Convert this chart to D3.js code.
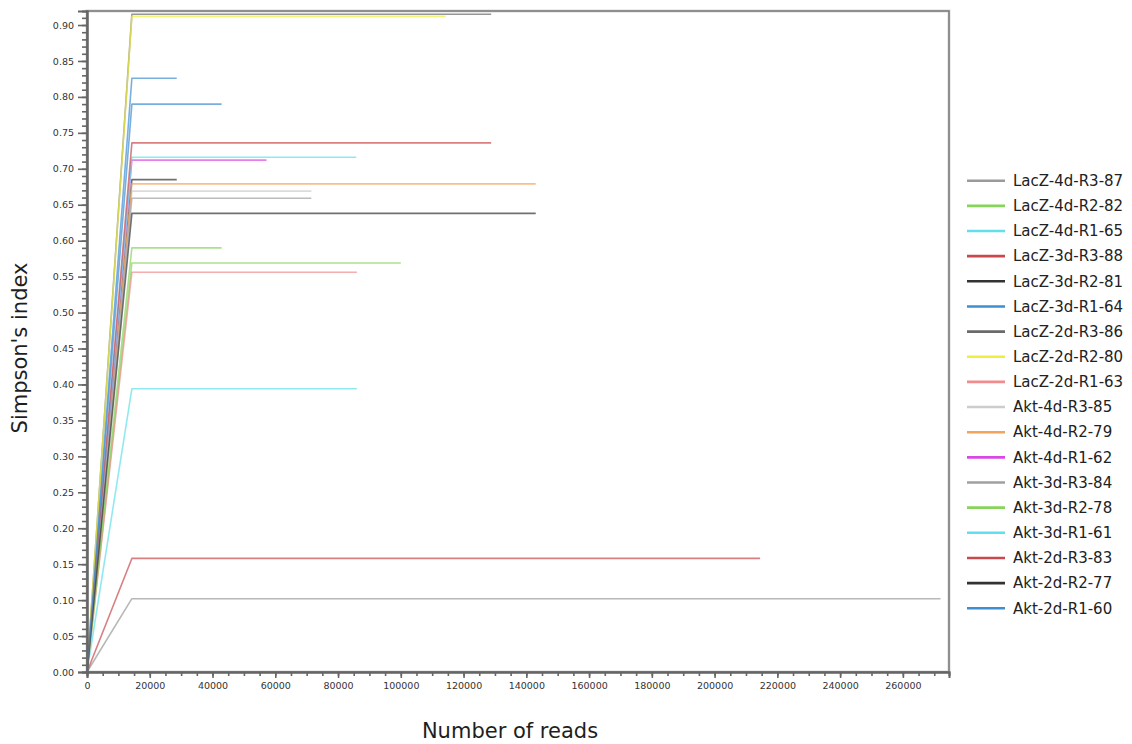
<!DOCTYPE html>
<html>
<head>
<meta charset="utf-8">
<script src="https://cdn.jsdelivr.net/npm/d3@7"></script>
<style>
  body { margin: 0; background: #fff; }
  svg text { font-family: "DejaVu Sans", Verdana, sans-serif; }
</style>
</head>
<body>
<svg id="chart" width="1132" height="744"></svg>
<script>
// Rarefaction of Simpson's index per library
const sampleNames = [
  "LacZ-4d-R3-87", "LacZ-4d-R2-82", "LacZ-4d-R1-65",
  "LacZ-3d-R3-88", "LacZ-3d-R2-81", "LacZ-3d-R1-64",
  "LacZ-2d-R3-86", "LacZ-2d-R2-80", "LacZ-2d-R1-63",
  "Akt-4d-R3-85", "Akt-4d-R2-79", "Akt-4d-R1-62",
  "Akt-3d-R3-84", "Akt-3d-R2-78", "Akt-3d-R1-61",
  "Akt-2d-R3-83", "Akt-2d-R2-77", "Akt-2d-R1-60"
];
const simpsonIndex = [
  0.102, 0.569, 0.394,
  0.158, 0.685, 0.826,
  0.915, 0.912, 0.556,
  0.669, 0.679, 0.712,
  0.659, 0.590, 0.716,
  0.736, 0.638, 0.790
];
const totalReads = [
  272000, 100000, 86000,
  214500, 28600, 28600,
  128800, 114300, 86000,
  71500, 143000, 57200,
  71500, 42900, 85800,
  128800, 143000, 42900
];
// subsampling depth of the first rarefaction step
const stepReads = [0, 14300];

const xTickLabels = [0, 20000, 40000, 60000, 80000, 100000, 120000, 140000,
  160000, 180000, 200000, 220000, 240000, 260000];
const yTickLabels = [0.00, 0.05, 0.10, 0.15, 0.20, 0.25, 0.30, 0.35, 0.40, 0.45,
  0.50, 0.55, 0.60, 0.65, 0.70, 0.75, 0.80, 0.85, 0.90];

const lineColors = [
  "#9a9a9a", "#86d45a", "#62e0ea",
  "#c8484c", "#333333", "#3d8fd2",
  "#6a6a6a", "#eeee3c", "#f08c8c",
  "#cccccc", "#f4a45a", "#d848e4",
  "#a0a0a0", "#86d45a", "#5ee0f0",
  "#c8484c", "#333333", "#3d8fd2"
];

const svg = d3.select("#chart");
const plot = { left: 87, top: 11, right: 949, bottom: 672 };

const x = d3.scaleLinear().domain([0, 274700]).range([plot.left, plot.right]);
const y = d3.scaleLinear().domain([0, 0.9195]).range([plot.bottom, plot.top]);

// plot frame
svg.append("rect")
  .attr("x", plot.left).attr("y", plot.top)
  .attr("width", plot.right - plot.left).attr("height", plot.bottom - plot.top)
  .attr("fill", "#fff").attr("stroke", "#e6e6e6").attr("stroke-width", 3.5);
svg.append("rect")
  .attr("x", plot.left).attr("y", plot.top)
  .attr("width", plot.right - plot.left).attr("height", plot.bottom - plot.top)
  .attr("fill", "none").attr("stroke", "#7a7a7a").attr("stroke-width", 1.6);

// series
const lineGen = d3.line().x(d => x(d[0])).y(d => y(d[1]));
const series = sampleNames.map((name, i) => ({
  name,
  color: lineColors[i],
  points: [[stepReads[0], 0], [stepReads[1], simpsonIndex[i]], [totalReads[i], simpsonIndex[i]]]
}));

svg.append("g").selectAll("path")
  .data(series)
  .join("path")
  .attr("d", d => lineGen(d.points))
  .attr("fill", "none")
  .attr("stroke", d => d.color)
  .attr("stroke-width", 1.6)
  .attr("stroke-opacity", 0.7)
  .attr("stroke-linejoin", "round");

// axes
const axisColor = "#666";
function styleAxis(g) {
  g.select(".domain").attr("stroke", axisColor).attr("stroke-width", 2);
  g.selectAll(".tick line").attr("stroke", axisColor).attr("stroke-width", 1.6);
  g.selectAll(".tick text").attr("fill", "#333");
}

const yMinor = d3.range(0, 0.915, 0.01).map(v => +v.toFixed(2));
svg.append("g")
  .attr("transform", `translate(${plot.left},0)`)
  .call(d3.axisLeft(y).tickValues(yMinor).tickSize(5).tickFormat(""))
  .call(styleAxis);
svg.append("g")
  .attr("transform", `translate(${plot.left},0)`)
  .call(d3.axisLeft(y).tickValues(yTickLabels).tickSize(9).tickPadding(4)
    .tickFormat(d3.format(".2f")))
  .call(styleAxis)
  .call(g => g.selectAll(".tick text").style("font-size", "9.5px"));

const xMinor = d3.range(0, 270001, 5000);
svg.append("g")
  .attr("transform", `translate(0,${plot.bottom})`)
  .call(d3.axisBottom(x).tickValues(xMinor).tickSize(4).tickFormat(""))
  .call(styleAxis);
svg.append("g")
  .attr("transform", `translate(0,${plot.bottom})`)
  .call(d3.axisBottom(x).tickValues(xTickLabels).tickSize(6).tickPadding(4)
    .tickFormat(d3.format("d")))
  .call(styleAxis)
  .call(g => g.selectAll(".tick text").style("font-size", "9.5px"));

// axis titles
svg.append("text")
  .attr("x", 510).attr("y", 738)
  .attr("text-anchor", "middle")
  .style("font-size", "21px").attr("fill", "#1e1e1e")
  .text("Number of reads");
svg.append("text")
  .attr("transform", "translate(27,348) rotate(-90)")
  .attr("text-anchor", "middle")
  .style("font-size", "21px").attr("fill", "#1e1e1e")
  .text("Simpson's index");

// legend
const legend = svg.append("g");
const rowH = 25.15, legendTop = 180.7;
const rows = legend.selectAll("g")
  .data(series)
  .join("g")
  .attr("transform", (d, i) => `translate(0,${legendTop + i * rowH})`);
rows.append("line")
  .attr("x1", 967).attr("x2", 1005)
  .attr("stroke", d => d.color).attr("stroke-width", 2.6);
rows.append("text")
  .attr("x", 1013).attr("dy", "0.35em")
  .style("font-size", "15px").attr("fill", "#222")
  .text(d => d.name);
</script>
</body>
</html>
